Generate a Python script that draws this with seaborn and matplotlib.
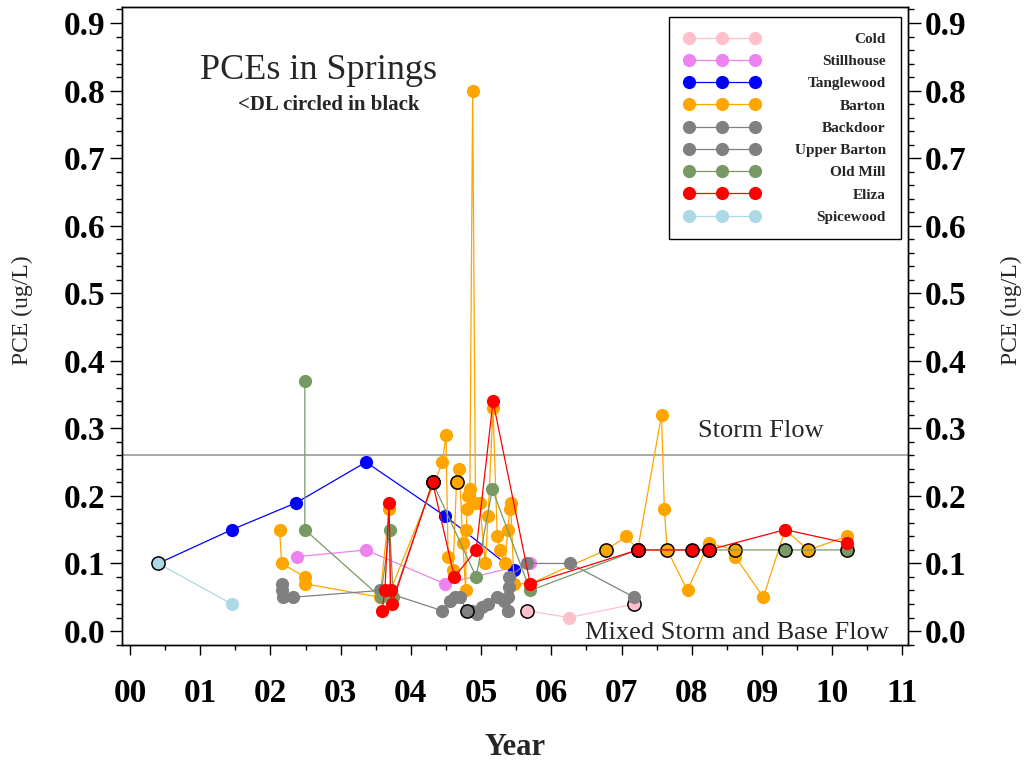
import numpy as np
import pandas as pd
import matplotlib
matplotlib.use("Agg")
import matplotlib.pyplot as plt
import seaborn as sns
from matplotlib.ticker import MultipleLocator

# ---------------- data ----------------
series_names = ["Cold", "Stillhouse", "Tanglewood", "Barton", "Backdoor",
                "Upper Barton", "Old Mill", "Eliza", "Spicewood"]
series_colors = ["#FFC0CB", "#EE82EE", "#0000FF", "#FFA500", "#808080",
                 "#808080", "#779A65", "#FF0000", "#ADD8E6"]

cold_year = [5.65, 6.25, 7.18]
cold_pce = [0.03, 0.02, 0.04]
cold_dl = [1, 0, 1]

stillhouse_year = [2.38, 3.36, 4.48, 5.70]
stillhouse_pce = [0.11, 0.12, 0.07, 0.10]
stillhouse_dl = [0, 0, 0, 0]

tanglewood_year = [0.40, 1.45, 2.37, 3.36, 4.49, 5.47]
tanglewood_pce = [0.10, 0.15, 0.19, 0.25, 0.17, 0.09]
tanglewood_dl = [0, 0, 0, 0, 0, 0]

barton_year = [2.13, 2.16, 2.49, 2.49, 3.56, 3.69, 3.71, 4.45, 4.50, 4.53,
               4.60, 4.65, 4.69, 4.74, 4.78, 4.79, 4.80, 4.81, 4.84, 4.88,
               4.92, 4.98, 5.06, 5.10, 5.17, 5.23, 5.27, 5.34, 5.38, 5.41,
               5.42, 5.47, 5.70, 6.78, 7.07, 7.23, 7.57, 7.61, 7.65, 7.94,
               8.24, 8.62, 8.62, 9.02, 9.33, 9.66, 10.21]
barton_pce = [0.15, 0.10, 0.08, 0.07, 0.05, 0.18, 0.06, 0.25, 0.29, 0.11,
              0.09, 0.22, 0.24, 0.13, 0.06, 0.15, 0.18, 0.20, 0.21, 0.80,
              0.19, 0.19, 0.10, 0.17, 0.33, 0.14, 0.12, 0.10, 0.15, 0.18,
              0.19, 0.07, 0.07, 0.12, 0.14, 0.12, 0.32, 0.18, 0.12, 0.06,
              0.13, 0.12, 0.11, 0.05, 0.15, 0.12, 0.14]
barton_dl = [0, 0, 0, 0, 0, 0, 0, 0, 0, 0,
             0, 1, 0, 0, 0, 0, 0, 0, 0, 0,
             0, 0, 0, 0, 0, 0, 0, 0, 0, 0,
             0, 0, 0, 1, 0, 1, 0, 0, 1, 0,
             0, 1, 0, 0, 0, 1, 0]

backdoor_year = [2.16, 2.17, 2.18, 2.32, 3.56, 4.45, 4.56, 4.63, 4.70, 4.80,
                 4.87, 4.94, 5.01, 5.10, 5.22, 5.32, 5.39]
backdoor_pce = [0.07, 0.06, 0.05, 0.05, 0.06, 0.03, 0.045, 0.05, 0.05, 0.03,
                0.03, 0.025, 0.035, 0.04, 0.05, 0.045, 0.03]
backdoor_dl = [0, 0, 0, 0, 0, 0, 0, 0, 0, 1,
               0, 0, 0, 0, 0, 0, 0]

upper_barton_year = [5.39, 5.39, 5.40, 5.40, 5.65, 6.27, 7.18]
upper_barton_pce = [0.03, 0.05, 0.065, 0.08, 0.10, 0.10, 0.05]
upper_barton_dl = [0, 0, 0, 0, 0, 0, 0]

old_mill_year = [2.49, 2.49, 3.57, 3.70, 3.75, 4.31, 4.93, 5.16, 5.70,
                 7.23, 8.24, 9.33, 10.21]
old_mill_pce = [0.37, 0.15, 0.05, 0.15, 0.05, 0.22, 0.08, 0.21, 0.06,
                0.12, 0.12, 0.12, 0.12]
old_mill_dl = [0, 0, 0, 0, 0, 1, 0, 0, 0, 1, 1, 1, 1]

eliza_year = [3.59, 3.63, 3.69, 3.71, 3.73, 4.31, 4.62, 4.93, 5.17, 5.70,
              7.23, 8.00, 8.24, 9.33, 10.21]
eliza_pce = [0.03, 0.06, 0.19, 0.06, 0.04, 0.22, 0.08, 0.12, 0.34, 0.07,
             0.12, 0.12, 0.12, 0.15, 0.13]
eliza_dl = [0, 0, 0, 0, 0, 1, 0, 0, 0, 0, 1, 1, 1, 0, 0]

spicewood_year = [0.40, 1.45]
spicewood_pce = [0.10, 0.04]
spicewood_dl = [1, 0]

storm_threshold = 0.26
x_tick_values = list(range(12))
x_tick_labels = ["00", "01", "02", "03", "04", "05", "06", "07", "08", "09", "10", "11"]
y_tick_values = [0.0, 0.1, 0.2, 0.3, 0.4, 0.5, 0.6, 0.7, 0.8, 0.9]
y_tick_labels = ["0.0", "0.1", "0.2", "0.3", "0.4", "0.5", "0.6", "0.7", "0.8", "0.9"]

series_data = [
    (cold_year, cold_pce, cold_dl),
    (stillhouse_year, stillhouse_pce, stillhouse_dl),
    (tanglewood_year, tanglewood_pce, tanglewood_dl),
    (barton_year, barton_pce, barton_dl),
    (backdoor_year, backdoor_pce, backdoor_dl),
    (upper_barton_year, upper_barton_pce, upper_barton_dl),
    (old_mill_year, old_mill_pce, old_mill_dl),
    (eliza_year, eliza_pce, eliza_dl),
    (spicewood_year, spicewood_pce, spicewood_dl),
]

frames = []
for name, (yr, pc, dl) in zip(series_names, series_data):
    frames.append(pd.DataFrame({"spring": name, "year": yr, "pce": pc,
                                "dl": dl, "order": range(len(yr))}))
df = pd.concat(frames, ignore_index=True)

# ---------------- style ----------------
sns.set_theme(style="white")
plt.rcParams["font.family"] = ["Liberation Serif", "DejaVu Serif"]
plt.rcParams["axes.edgecolor"] = "black"
plt.rcParams["axes.linewidth"] = 1.0

W, H = 1028, 766
fig = plt.figure(figsize=(W / 100, H / 100), dpi=100)
ax_l, ax_r, ax_t, ax_b = 122, 908, 7, 645
ax = fig.add_axes([ax_l / W, 1 - ax_b / H, (ax_r - ax_l) / W, (ax_b - ax_t) / H])

ms = 9.5
handles = []
for i, (name, color) in enumerate(zip(series_names, series_colors)):
    sub = df[df["spring"] == name].sort_values("order")
    z = 3 + i * 0.1
    sns.lineplot(data=sub, x="year", y="pce", sort=False, estimator=None,
                 color=color, lw=0.9, marker="o", markersize=ms,
                 markeredgewidth=0, ax=ax, zorder=z, legend=False)
    line = ax.lines[-1]
    line.set_markerfacecolor(color)
    line.set_markeredgecolor(color)
    handles.append(line)
    dsub = sub[sub["dl"] == 1]
    if len(dsub):
        sns.scatterplot(data=dsub, x="year", y="pce", color=color,
                        edgecolor="black", linewidth=1.1, s=ms ** 2,
                        ax=ax, zorder=z + 0.05, legend=False)

ax.axhline(storm_threshold, color="#999999", lw=1.2, zorder=2)

ax.set_xlim(-0.114, 11.08)
ax.set_ylim(-0.0207, 0.9237)
ax.set_xticks(x_tick_values)
ax.set_xticklabels(x_tick_labels)
ax.xaxis.set_minor_locator(MultipleLocator(0.5))
ax.set_yticks(y_tick_values)
ax.set_yticklabels(y_tick_labels)
ax.yaxis.set_minor_locator(MultipleLocator(0.02))

ax.tick_params(axis="x", which="major", direction="out", length=7.5, width=1,
               pad=16, bottom=True, top=False, labelsize=24, colors="black")
ax.tick_params(axis="x", which="minor", direction="out", length=3.6, width=1,
               bottom=True, top=False, colors="black")
ax.tick_params(axis="y", which="major", direction="out", length=9, width=1,
               pad=3, left=True, right=False, labelsize=24, colors="black")
ax.tick_params(axis="y", which="minor", direction="out", length=4, width=1,
               left=True, right=False, colors="black")
for lab in ax.get_xticklabels() + ax.get_yticklabels():
    lab.set_fontweight("bold")

for sp in ax.spines.values():
    sp.set_visible(True)
    sp.set_color("black")
    sp.set_linewidth(1.0)

ax.set_xlabel("Year", fontsize=22, fontweight="bold")
ax.xaxis.set_label_coords(0.5, -0.138)
ax.set_ylabel("PCE (ug/L)", fontsize=17, ha="center", va="center")
ax.yaxis.set_label_coords(-0.127, 0.525)

ax2 = ax.twinx()
ax2.set_ylim(ax.get_ylim())
ax2.set_yticks(y_tick_values)
ax2.set_yticklabels(y_tick_labels)
ax2.yaxis.set_minor_locator(MultipleLocator(0.02))
ax2.tick_params(axis="y", which="major", direction="out", length=9, width=1,
                pad=3, right=True, labelsize=24, colors="black")
ax2.tick_params(axis="y", which="minor", direction="out", length=4, width=1,
                right=True, colors="black")
for lab in ax2.get_yticklabels():
    lab.set_fontweight("bold")
ax2.set_ylabel("PCE (ug/L)", fontsize=17, rotation=90, ha="center", va="center")
ax2.yaxis.set_label_coords(1.132, 0.525)
ax2.grid(False)
ax.grid(False)

# annotations
ax.text(0.099, 0.901, "PCEs in Springs", transform=ax.transAxes,
        fontsize=26, ha="left", va="center")
ax.text(0.148, 0.846, "<DL circled in black", transform=ax.transAxes,
        fontsize=15, fontweight="bold", ha="left", va="center")
ax.text(0.733, 0.335, "Storm Flow", transform=ax.transAxes,
        fontsize=19, ha="left", va="center")
ax.text(0.589, 0.019, "Mixed Storm and Base Flow", transform=ax.transAxes,
        fontsize=19, ha="left", va="center")

leg = ax2.legend(handles, series_names, loc="upper right",
                 bbox_to_anchor=(901 / W, 1 - 17 / H),
                 bbox_transform=fig.transFigure, borderaxespad=0,
                 numpoints=3, handlelength=4.9, handletextpad=2.3,
                 labelspacing=0.56, borderpad=1.0, frameon=True,
                 fancybox=False, framealpha=1, edgecolor="black",
                 prop=dict(family="Liberation Serif", size=11, weight="bold"))
leg.get_frame().set_linewidth(1.0)

# right-align legend labels
fig.canvas.draw()
renderer = fig.canvas.get_renderer()
texts = leg.get_texts()
exts = [t.get_window_extent(renderer) for t in texts]
right = max(e.x1 for e in exts)
for t, e in zip(texts, exts):
    t.set_position((right - e.x1, 0))

fig.savefig("out.png", dpi=100)
